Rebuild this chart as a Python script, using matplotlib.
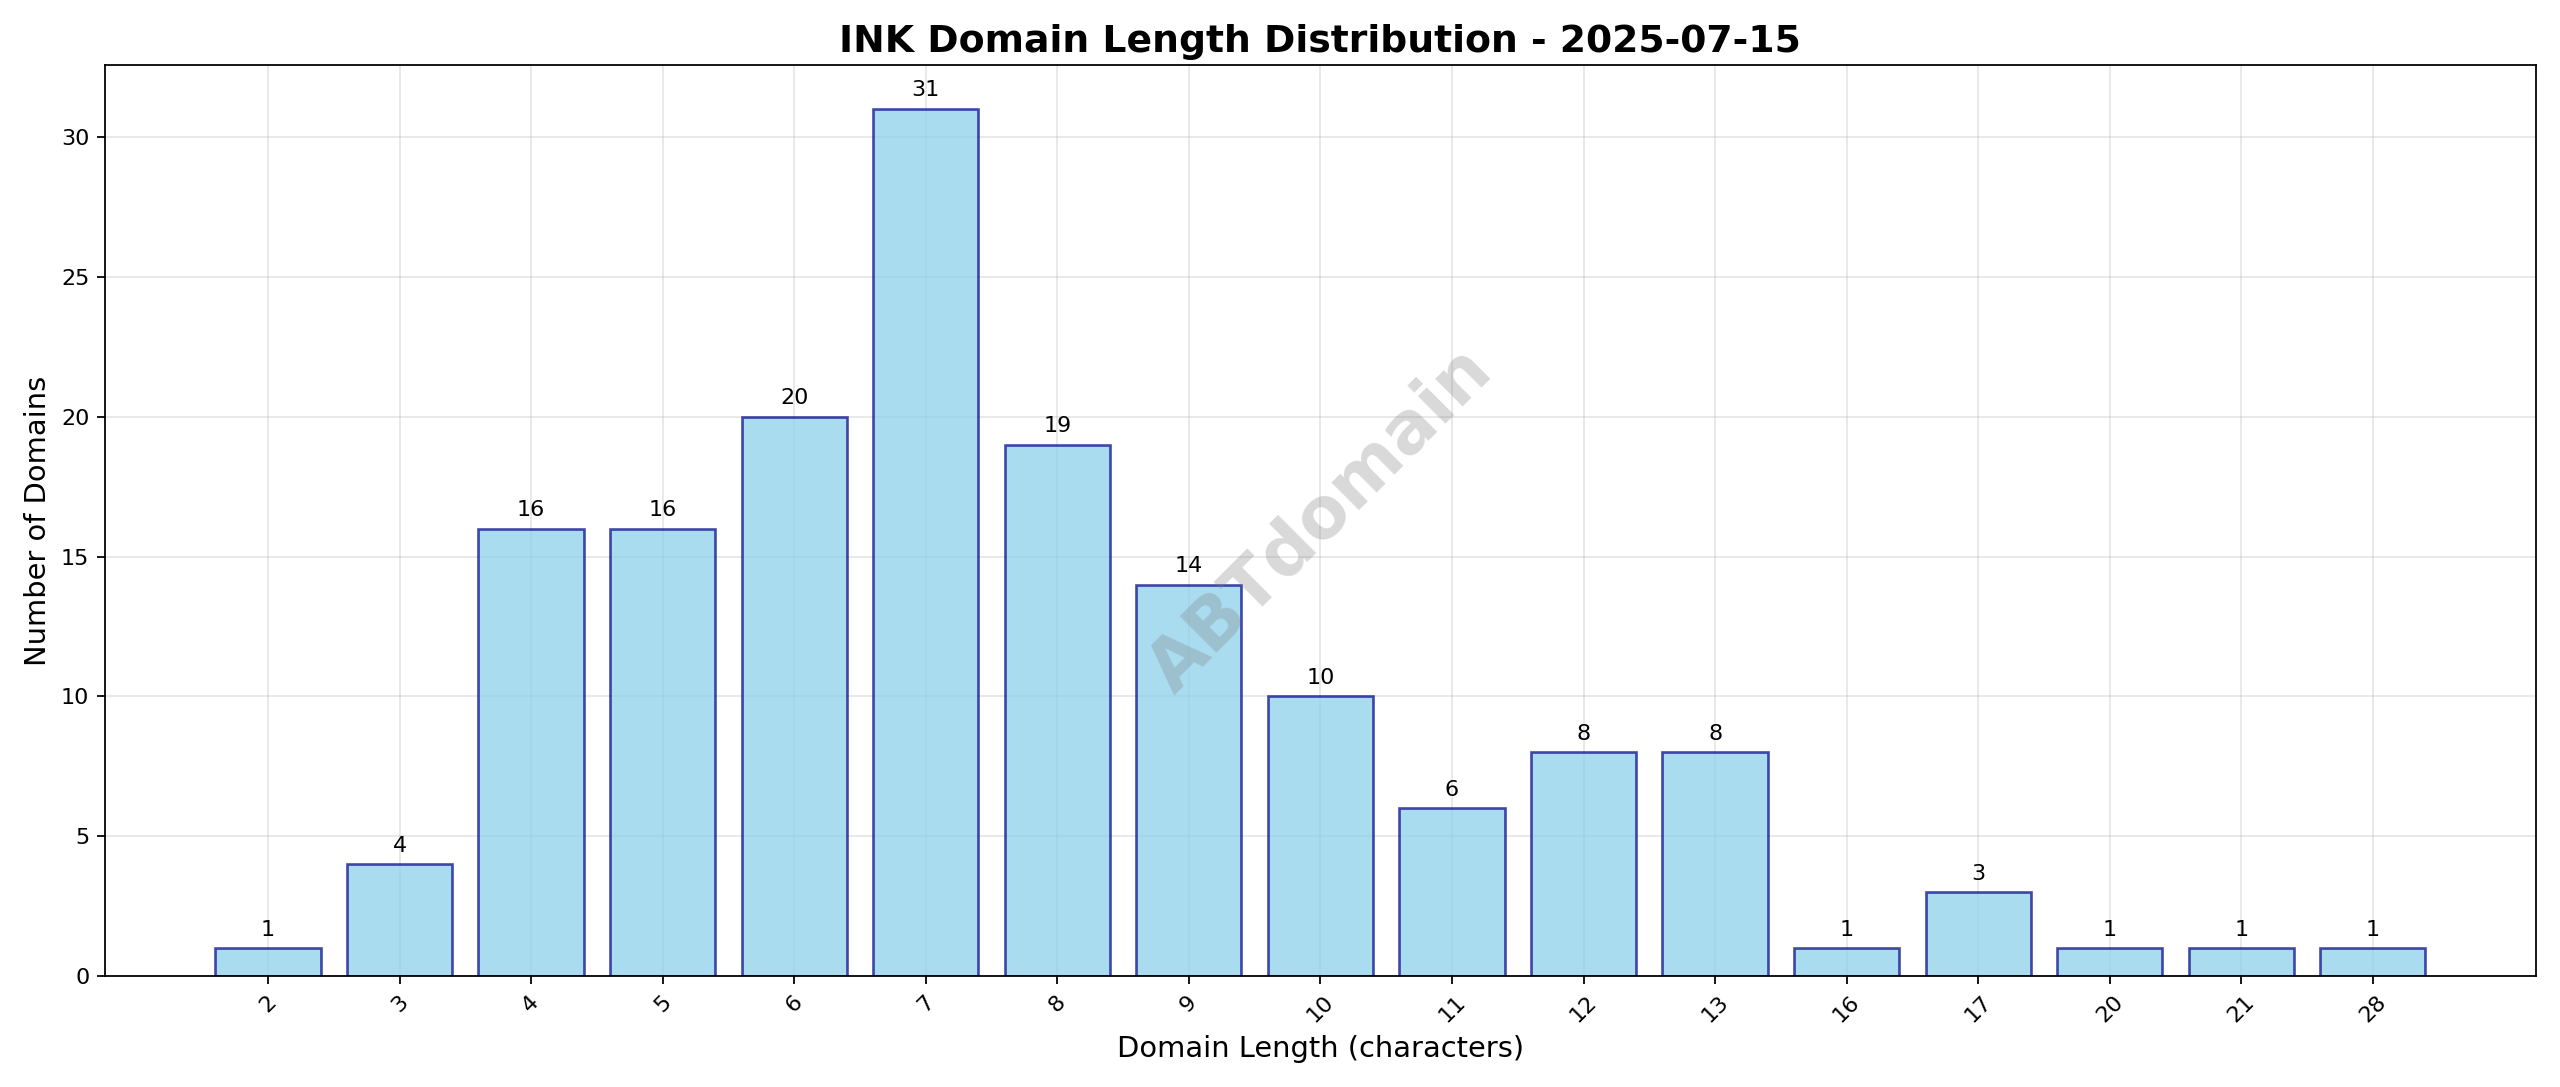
import matplotlib
matplotlib.use("Agg")
import matplotlib.pyplot as plt
import numpy as np

lengths = ["2", "3", "4", "5", "6", "7", "8", "9", "10", "11", "12", "13", "16", "17", "20", "21", "28"]
counts = [1, 4, 16, 16, 20, 31, 19, 14, 10, 6, 8, 8, 1, 3, 1, 1, 1]

fig, ax = plt.subplots(figsize=(16, 6.79375), dpi=160)
x = np.arange(len(lengths))
bars = ax.bar(x, counts, color="skyblue", edgecolor="darkblue", alpha=0.7, linewidth=1.2)
for b, c in zip(bars, counts):
    ax.text(b.get_x() + b.get_width() / 2, c + 0.3, str(c), ha="center", va="bottom", fontsize=10)

ax.set_xticks(x)
ax.set_xticklabels(lengths, rotation=45)
ax.set_xlabel("Domain Length (characters)", fontsize=13)
ax.set_ylabel("Number of Domains", fontsize=13)
ax.set_title("INK Domain Length Distribution - 2025-07-15", fontsize=17, fontweight="bold")
ax.grid(True, alpha=0.3)
ax.set_axisbelow(True)
ax.text(0.5, 0.5, "ABTdomain", transform=ax.transAxes, fontsize=32, fontweight="bold",
        color="gray", alpha=0.3, rotation=45, ha="center", va="center")
plt.tight_layout()
plt.savefig("out.png", dpi=160)
